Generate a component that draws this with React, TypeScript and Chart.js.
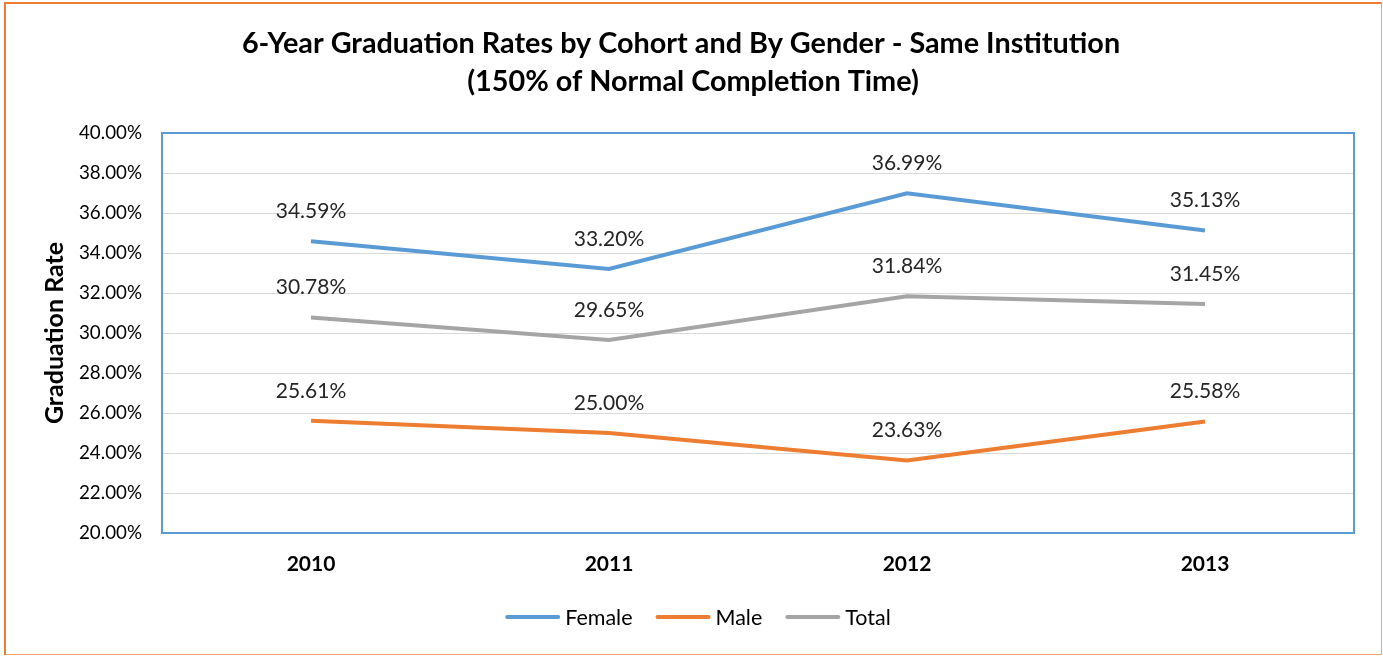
import React, { useEffect, useRef } from "react";
import { Chart, registerables } from "chart.js";

Chart.register(...registerables);

const cohorts = ["2010", "2011", "2012", "2013"];
const femaleRates = [34.59, 33.2, 36.99, 35.13];
const maleRates = [25.61, 25.0, 23.63, 25.58];
const totalRates = [30.78, 29.65, 31.84, 31.45];
const seriesNames = ["Female", "Male", "Total"];
const seriesColors = ["#5b9bd5", "#ed7d31", "#a5a5a5"];
const titleLines = [
  "6-Year Graduation Rates by Cohort and By Gender - Same Institution",
  "(150% of Normal Completion Time)",
];
const yAxisTitle = "Graduation Rate";

const FONT = "Lato, 'Noto Sans', sans-serif";

const decorPlugin = {
  id: "decor",
  beforeDraw(chart: any) {
    const { ctx, width, height } = chart;
    ctx.save();
    ctx.fillStyle = "#ffffff";
    ctx.fillRect(0, 0, width, height);
    // outer border
    ctx.strokeStyle = "#f4a46c";
    ctx.lineWidth = 1;
    ctx.strokeRect(4.5, 2.5, width - 6, height - 4);
    ctx.strokeStyle = "#ed7d31";
    ctx.lineWidth = 2;
    ctx.beginPath();
    ctx.moveTo(5, 2);
    ctx.lineTo(5, height - 1);
    ctx.moveTo(4, 3);
    ctx.lineTo(width - 2, 3);
    ctx.stroke();
    // title
    ctx.fillStyle = "#000000";
    ctx.font = `bold 28.8px ${FONT}`;
    ctx.textAlign = "center";
    ctx.textBaseline = "middle";
    ctx.fillText(titleLines[0], 681, 44);
    ctx.fillText(titleLines[1], 693, 82);
    ctx.restore();
  },
  afterDatasetsDraw(chart: any) {
    const { ctx, chartArea } = chart;
    ctx.save();
    // plot area border
    ctx.strokeStyle = "#5b9bd5";
    ctx.lineWidth = 2;
    ctx.strokeRect(
      chartArea.left,
      chartArea.top,
      chartArea.right - chartArea.left,
      chartArea.bottom - chartArea.top
    );
    // data labels
    ctx.font = `21px ${FONT}`;
    ctx.fillStyle = "#262626";
    ctx.textAlign = "center";
    ctx.textBaseline = "middle";
    chart.data.datasets.forEach((ds: any, i: number) => {
      const meta = chart.getDatasetMeta(i);
      meta.data.forEach((pt: any, j: number) => {
        ctx.fillText(ds.data[j].toFixed(2) + "%", pt.x, pt.y - 30);
      });
    });
    // legend
    const lineLen = 55;
    const gapText = 5;
    const gapItem = 23;
    ctx.font = `21.5px ${FONT}`;
    const widths = chart.data.datasets.map(
      (ds: any) => lineLen + gapText + ctx.measureText(ds.label).width
    );
    const total =
      widths.reduce((a: number, b: number) => a + b, 0) +
      gapItem * (widths.length - 1);
    let x = 698 - total / 2;
    const y = 617;
    ctx.textAlign = "left";
    ctx.lineCap = "round";
    chart.data.datasets.forEach((ds: any, i: number) => {
      ctx.strokeStyle = ds.borderColor;
      ctx.lineWidth = 4;
      ctx.beginPath();
      ctx.moveTo(x + 2, y);
      ctx.lineTo(x + lineLen - 2, y);
      ctx.stroke();
      ctx.fillStyle = "#000000";
      ctx.fillText(ds.label, x + lineLen + gapText, y + 1);
      x += widths[i] + gapItem;
    });
    ctx.restore();
  },
};

export default function App() {
  const canvasRef = useRef<HTMLCanvasElement | null>(null);

  useEffect(() => {
    document.body.style.margin = "0";
    const canvas = canvasRef.current;
    if (!canvas) return;
    const seriesData = [femaleRates, maleRates, totalRates];
    const chart = new Chart(canvas, {
      type: "line",
      data: {
        labels: cohorts,
        datasets: seriesNames.map((name, i) => ({
          label: name,
          data: seriesData[i],
          borderColor: seriesColors[i],
          backgroundColor: seriesColors[i],
          borderWidth: 4,
          pointRadius: 0,
          tension: 0,
          fill: false,
        })),
      },
      options: {
        responsive: false,
        animation: false,
        devicePixelRatio: 1,
        layout: { padding: { top: 133, right: 29, bottom: 0, left: 0 } },
        plugins: {
          legend: { display: false },
          title: { display: false },
          tooltip: { enabled: false },
        },
        scales: {
          x: {
            offset: true,
            grid: { display: false, drawTicks: false },
            border: { display: false },
            ticks: {
              padding: 19,
              color: "#000000",
              font: { family: FONT, size: 21, weight: "bold" },
            },
            afterFit(scale: any) {
              scale.height = 123;
            },
          },
          y: {
            min: 20,
            max: 40,
            grid: { color: "#d9d9d9", lineWidth: 1, drawTicks: false },
            border: { display: false },
            ticks: {
              stepSize: 2,
              padding: 20,
              color: "#000000",
              font: { family: FONT, size: 18.8 },
              callback: (v: any) => Number(v).toFixed(2) + "%",
            },
            title: {
              display: true,
              text: yAxisTitle,
              color: "#000000",
              font: { family: FONT, size: 25, weight: "bold" },
              padding: { top: 40, bottom: 0 },
            },
            afterFit(scale: any) {
              scale.width = 162;
            },
          },
        },
      },
      plugins: [decorPlugin],
    });
    return () => chart.destroy();
  }, []);

  return (
    <div style={{ width: 1383, height: 656 }}>
      <canvas ref={canvasRef} width={1383} height={656} style={{ display: "block" }} />
    </div>
  );
}
